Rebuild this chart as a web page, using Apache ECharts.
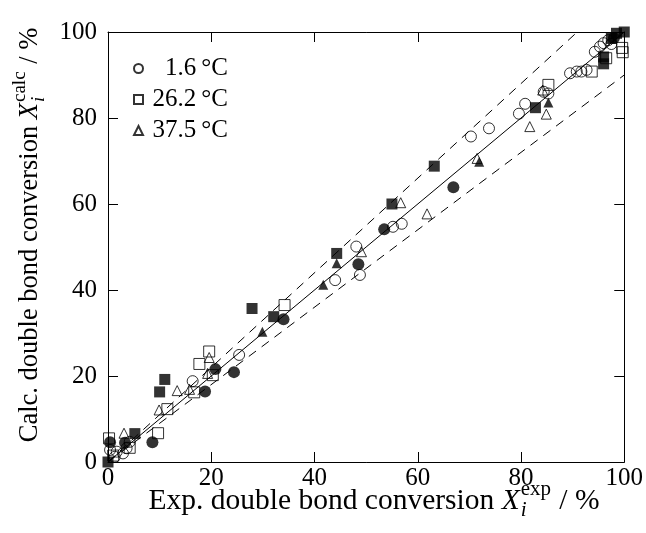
<!DOCTYPE html>
<html><head><meta charset="utf-8">
<script src="https://cdn.jsdelivr.net/npm/echarts@6/dist/echarts.min.js"></script>
<style>html,body{margin:0;padding:0;background:#fff}#c{width:646px;height:533px}</style>
</head><body><div id="c"></div>
<script>
// ---- data ----
const xTickValues = [0, 20, 40, 60, 80, 100];
const legendNames = ['1.6\u2009°C', '26.2\u2009°C', '37.5\u2009°C'];

const circlesOpen = [[0.4,2.8],[1.7,2.4],[1.3,1.2],[2.9,2.0],[3.6,3.2],[4.2,4.7],[16.4,18.8],[25.4,24.9],
  [44.0,42.3],[48.1,50.1],[48.8,43.5],[55.2,54.7],[56.9,55.4],[70.3,75.7],[73.8,77.6],[79.6,81.0],
  [80.8,83.3],[84.4,86.1],[85.3,85.7],[89.5,90.4],[90.8,90.8],[91.7,90.8],[92.7,91.2],[94.3,95.4],
  [95.3,96.6],[96.0,97.4],[96.9,98.1],[97.5,97.2]];
const squaresOpen = [[0.2,5.5],[1.0,1.5],[4.2,3.3],[9.7,6.7],[11.5,12.3],[16.7,16.2],[17.7,22.8],[19.6,25.7],
  [20.3,20.2],[34.2,36.5],[85.3,87.7],[93.7,90.8],[96.5,93.9],[99.6,96.3],[99.7,95.3]];
const trianglesOpen = [[3.1,6.7],[9.9,12.1],[13.4,16.6],[15.8,16.9],[19.3,20.6],[19.6,24.3],[49.1,48.9],
  [56.7,60.3],[61.8,57.7],[71.5,70.6],[81.7,78.0],[84.9,80.9],[84.2,86.5]];
const circlesFilled = [[0.4,4.6],[3.3,4.5],[8.6,4.6],[18.8,16.4],[20.8,21.6],[24.4,20.9],[34.0,33.2],
  [48.5,46.0],[53.5,54.1],[66.9,63.9],[98.0,98.6]];
const squaresFilled = [[0,0],[5.2,6.6],[10.0,16.3],[11.0,19.2],[27.9,35.7],[32.1,33.8],[44.3,48.5],
  [55.0,60.0],[63.2,68.8],[82.8,82.4],[96.0,94.2],[96.0,92.6],[97.5,98.5],[98.5,99.7],[100,100]];
const trianglesFilled = [[29.9,30.3],[41.7,41.2],[44.3,46.2],[71.9,69.8],[85.3,83.6]];

const parityLine = [[0,0],[100,100]];
const upperLine = [[0,0],[90.9,100]];
const lowerLine = [[0,0],[100,90]];

// ---- chart ----
const FONT = '"Liberation Serif", "Times New Roman", serif';
const ctx = document.createElement('canvas').getContext('2d');
function fnt(size, italic) { return (italic ? 'italic ' : '') + size + 'px ' + FONT; }
function tw(t, size, italic) { ctx.font = fnt(size, italic); return ctx.measureText(t).width; }
function mk(text, x, y, sz, italic) {
  return {type:'text', x:x, y:y, style:{text:text, font:fnt(sz, italic), fill:'#000', align:'left', verticalAlign:'middle'}};
}
function titleChildren(main, sup, tail, size) {
  const s2 = Math.round(size * 0.7);
  const w1 = tw(main, size), wX = tw('X', size, true), wsup = tw(sup, s2), wsub = tw('i', s2, true), w3 = tw(tail, size);
  const total = w1 + wX + Math.max(wsup, wsub) + 2 + w3;
  let x = -total / 2;
  const ch = [];
  ch.push(mk(main, x, 0, size, false)); x += w1;
  ch.push(mk('X', x, 0, size, true)); x += wX;
  ch.push(mk(sup, x + 1, -size * 0.38, s2, false));
  ch.push(mk('i', x + 1, size * 0.33, s2, true));
  x += Math.max(wsup, wsub) + 2;
  ch.push(mk(tail, x, 0, size, false));
  return ch;
}

function scat(name, data, symbol, filled, size) {
  return {type:'scatter', name:name, data:data, symbol:symbol, symbolSize:size, clip:false, z:3,
    itemStyle: filled ? {color:'#000'} : {color:'rgba(255,255,255,0)', borderColor:'#000', borderWidth:1},
    emphasis:{disabled:true}};
}
function line(data, dashed) {
  return {type:'line', data:data, showSymbol:false, symbol:'none', z:2, silent:true,
    lineStyle:{color:'#000', width:1, type: dashed ? [9,7] : 'solid'}};
}

const tickFont = {fontFamily:FONT, fontSize:25, color:'#000'};
const axisBase = {min:0, max:100, interval:20,
  axisLine:{show:true, onZero:false, lineStyle:{color:'#000', width:1}},
  axisTick:{show:true, inside:true, length:10, lineStyle:{color:'#000'}},
  splitLine:{show:false}};

const chart = echarts.init(document.getElementById('c'));
chart.setOption({
  animation:false,
  backgroundColor:'#fff',
  grid:{left:108, right:18, top:32, bottom:71, containLabel:false},
  xAxis:[
    Object.assign({}, axisBase, {type:'value', position:'bottom',
      axisLabel:Object.assign({margin:4, formatter:function(v){return xTickValues.indexOf(v) >= 0 ? String(v) : '';}}, tickFont)}),
    Object.assign({}, axisBase, {type:'value', position:'top', axisLabel:{show:false}})
  ],
  yAxis:[
    Object.assign({}, axisBase, {type:'value', position:'left', axisLabel:Object.assign({margin:11}, tickFont)}),
    Object.assign({}, axisBase, {type:'value', position:'right', axisLabel:{show:false}})
  ],
  legend:{show:true, orient:'vertical', left:128, top:51, itemWidth:9, itemHeight:9, itemGap:6,
    data:legendNames, selectedMode:false,
    formatter:function(n){return '{a|' + n + '}';},
    textStyle:{fontFamily:FONT, fontSize:25, color:'#000', rich:{a:{width:80, align:'right', fontFamily:FONT, fontSize:25, color:'#000'}}}},
  graphic:[
    {type:'group', x:374, y:501, children:titleChildren('Exp. double bond conversion ', 'exp', ' / %', 29.5)},
    {type:'group', x:30, y:235, rotation:Math.PI/2, children:titleChildren('Calc. double bond conversion ', 'calc', ' / %', 26.5)}
  ],
  series:[
    line(parityLine, false), line(upperLine, true), line(lowerLine, true),
    scat(legendNames[0], circlesOpen, 'circle', false, 11),
    scat(legendNames[1], squaresOpen, 'rect', false, 11),
    scat(legendNames[2], trianglesOpen, 'triangle', false, 10),
    scat('filled circles', circlesFilled, 'circle', true, 12),
    scat('filled squares', squaresFilled, 'rect', true, 11),
    scat('filled triangles', trianglesFilled, 'triangle', true, 10)
  ]
});
</script></body></html>
